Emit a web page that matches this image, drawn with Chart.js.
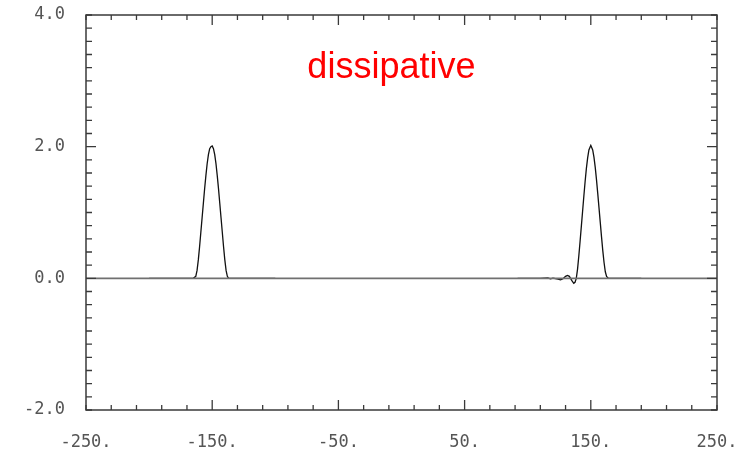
<!DOCTYPE html>
<html>
<head>
<meta charset="utf-8">
<script src="https://cdn.jsdelivr.net/npm/chart.js@4"></script>
<style>
  html, body { margin: 0; padding: 0; background: #fff; }
  #wrap { width: 749px; height: 449px; }
</style>
</head>
<body>
<div id="wrap"><canvas id="chart1" width="749" height="449"></canvas></div>
<script>
// values
const leftX = [-200, -180, -170, -165, -163, -162, -161, -160, -159, -158, -157, -156, -155, -154, -153, -152, -151, -150,
  -149, -148, -147, -146, -145, -144, -143, -142, -141, -140, -139, -138, -137, -136, -130, -120, -100];
const leftY = [0, 0, 0, 0, 0.03, 0.12, 0.28, 0.48, 0.70, 0.92, 1.14, 1.36, 1.56, 1.74, 1.88, 1.97, 2.0, 2.01,
  1.97, 1.88, 1.74, 1.56, 1.36, 1.14, 0.92, 0.70, 0.48, 0.28, 0.12, 0.03, 0, 0, 0, 0, 0];

const rightX = [92, 110, 116, 118, 120, 122, 124, 126, 128, 130, 131.5, 133, 135, 136.5, 137.5, 138.5, 139.5,
  140.5, 141.5, 142.5, 143.5, 144.5, 145.5, 146.5, 147.5, 148.5, 150, 151.5, 152.5, 153.5, 154.5, 155.5,
  156.5, 157.5, 158.5, 159.5, 160.5, 161.5, 162.5, 164, 170, 190];
const rightY = [0, 0, 0.005, -0.008, 0.004, -0.006, -0.012, -0.022, -0.005, 0.03, 0.045, 0.03, -0.035, -0.075, -0.06, 0.0, 0.14,
  0.34, 0.56, 0.79, 1.02, 1.25, 1.47, 1.67, 1.83, 1.95, 2.02, 1.95, 1.84, 1.69, 1.50, 1.29,
  1.07, 0.85, 0.63, 0.42, 0.24, 0.10, 0.03, 0, 0, 0];

const baseX = [-250, 250];
const baseY = [0, 0];

const xLabels = [-250, -150, -50, 50, 150, 250];
const yLabels = [-2, 0, 2, 4];
const xMajor = [-150, -50, 50, 150];
const yMajor = [0, 2];
const xMinorStep = 20;
const yMinorStep = 0.2;

const title = "dissipative";

const pts = (xs, ys) => xs.map((x, i) => ({ x: x, y: ys[i] }));

const frame = {
  id: "frame",
  afterDraw(chart) {
    const ctx = chart.ctx;
    const a = chart.chartArea;
    const sx = chart.scales.x, sy = chart.scales.y;
    ctx.save();
    ctx.strokeStyle = "#3a3a3a";
    ctx.lineWidth = 1.5;
    ctx.strokeRect(a.left, a.top, a.right - a.left, a.bottom - a.top);
    ctx.lineWidth = 1.3;
    ctx.beginPath();
    for (let v = -250; v <= 250.01; v += xMinorStep) {
      const px = sx.getPixelForValue(v);
      const len = xMajor.includes(Math.round(v)) ? 10 : 5;
      ctx.moveTo(px, a.bottom); ctx.lineTo(px, a.bottom - len);
      ctx.moveTo(px, a.top); ctx.lineTo(px, a.top + len);
    }
    for (let k = 0; k <= 30; k++) {
      const v = -2 + k * yMinorStep;
      const py = sy.getPixelForValue(v);
      const len = yMajor.some(m => Math.abs(m - v) < 1e-6) ? 10 : 6;
      ctx.moveTo(a.left, py); ctx.lineTo(a.left + len, py);
      ctx.moveTo(a.right, py); ctx.lineTo(a.right - len, py);
    }
    ctx.stroke();
    // label inside the plot
    ctx.fillStyle = "#ff0000";
    ctx.font = "36px 'Liberation Sans', Arial, sans-serif";
    ctx.textAlign = "center";
    ctx.textBaseline = "alphabetic";
    ctx.fillText(title, sx.getPixelForValue(-8), sy.getPixelForValue(3.05));
    ctx.restore();
  }
};

const tickFont = { family: "'DejaVu Sans Mono', monospace", size: 17 };
const noPad = s => { s.paddingTop = 0; s.paddingBottom = 0; s.paddingLeft = 0; s.paddingRight = 0; };

new Chart(document.getElementById("chart1"), {
  type: "line",
  data: {
    datasets: [
      { data: pts(baseX, baseY), borderColor: "#707070", borderWidth: 1.6, pointRadius: 0 },
      { data: pts(leftX, leftY), borderColor: "#111", borderWidth: 1.3, pointRadius: 0 },
      { data: pts(rightX, rightY), borderColor: "#111", borderWidth: 1.3, pointRadius: 0 }
    ]
  },
  options: {
    responsive: false,
    animation: false,
    layout: { padding: { top: 15, right: 32, left: 0, bottom: 0 } },
    plugins: { legend: { display: false }, tooltip: { enabled: false } },
    scales: {
      x: {
        type: "linear", min: -250, max: 250,
        grid: { display: false, drawTicks: false },
        border: { display: false },
        afterBuildTicks: s => { s.ticks = xLabels.map(v => ({ value: v })); },
        afterFit: s => { s.height = 39; noPad(s); },
        ticks: { autoSkip: false, maxRotation: 0, padding: 22, color: "#555", font: tickFont,
          callback: v => v + "." }
      },
      y: {
        type: "linear", min: -2, max: 4,
        grid: { display: false, drawTicks: false },
        border: { display: false },
        afterBuildTicks: s => { s.ticks = yLabels.map(v => ({ value: v })); },
        afterFit: s => { s.width = 86; noPad(s); },
        ticks: { padding: 21, color: "#555", font: tickFont, callback: v => v.toFixed(1) }
      }
    }
  },
  plugins: [frame]
});
</script>
</body>
</html>
